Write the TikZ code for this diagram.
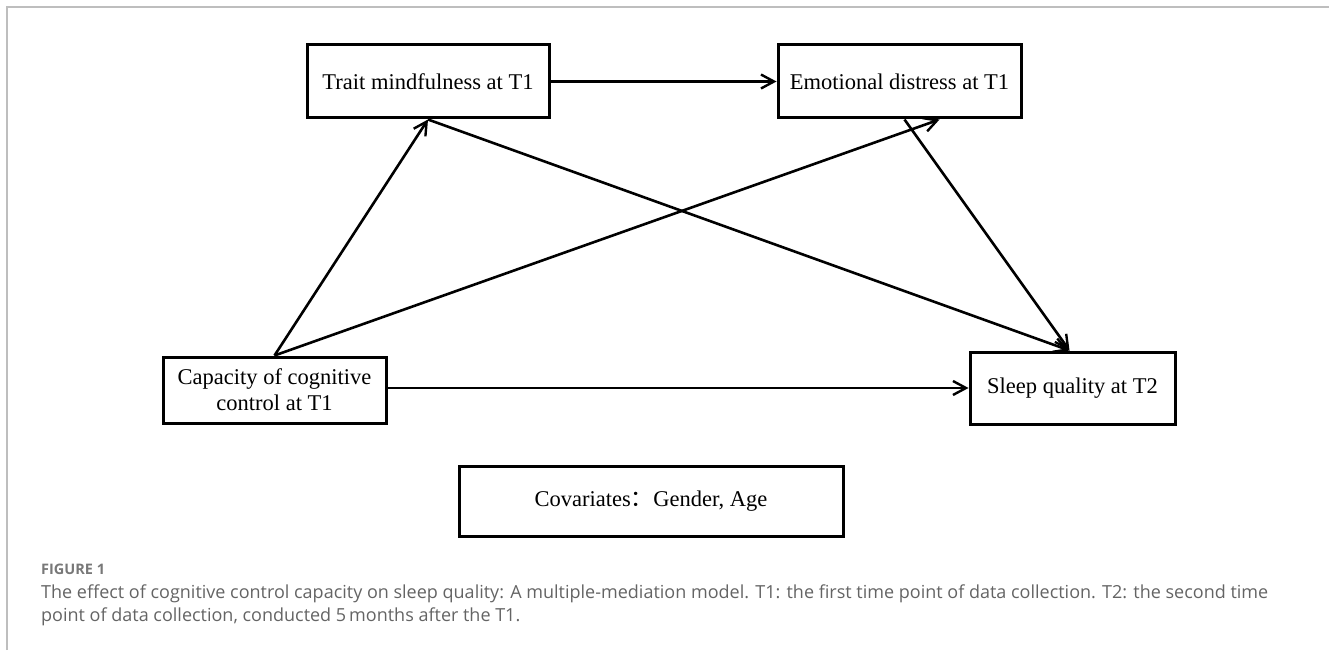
\documentclass[tikz,border=0pt]{standalone}
\usepackage{fontspec}
\setmainfont{Liberation Serif}
\newfontfamily\capfont{Open Sans}
\newfontfamily\cjk{Noto Sans CJK SC}
\usetikzlibrary{arrows.meta}
\definecolor{capgray}{RGB}{100,100,100}
\definecolor{labgray}{RGB}{120,120,120}
\definecolor{framegray}{RGB}{190,190,190}
\tikzset{
  varbox/.style={draw=black, line width=3pt, rectangle, align=center, inner sep=0pt, font=\fontsize{22.5}{26}\selectfont},
  path arrow/.style={line width=2.6pt, -{Straight Barb[length=13pt,width=14pt,line width=2.4pt]}},
  captext/.style={anchor=base west, inner sep=0pt, text=capgray, font=\capfont\fontsize{18}{23}\selectfont},
}
\begin{document}
\begin{tikzpicture}[x=1pt,y=-1pt]
\useasboundingbox (0,0) rectangle (1329,650);
\draw[framegray, line width=1.5pt] (7,650) -- (7,7) -- (1329,7);
\node[varbox, minimum width=242pt, minimum height=73pt] (trait) at (428,81.5) {Trait mindfulness at T1};
\node[varbox, minimum width=243pt, minimum height=73pt] (emo) at (899.5,81.5) {Emotional distress at T1};
\node[varbox, minimum width=223pt, minimum height=66pt] (cap) at (274.5,390) {Capacity of cognitive\\control at T1};
\node[varbox, minimum width=205pt, minimum height=72pt] (sleep) at (1072.5,388) {Sleep quality at T2};
\node[varbox, minimum width=384pt, minimum height=70pt] (cov) at (651,501) {Covariates{\cjk ：}Gender, Age};
\draw[path arrow] (trait.east) -- (emo.west);
\draw[path arrow] (cap.east |- sleep.west) -- (sleep.west);
\draw[path arrow] (cap.north) -- (trait.south);
\draw[path arrow] (cap.north) -- ([xshift=40pt]emo.south);
\draw[path arrow] (trait.south) -- ([xshift=-3pt]sleep.north);
\draw[path arrow] ([xshift=5pt]emo.south) -- ([xshift=-3pt]sleep.north);
\node[anchor=base west, inner sep=0pt, text=labgray, font=\capfont\bfseries\fontsize{14.5}{16}\selectfont] (figlab) at (41,574) {FIGURE 1};
\node[captext] (capline1) at (41,598) {The effect of cognitive control capacity on sleep quality: A multiple-mediation model. T1: the first time point of data collection. T2: the second time};
\node[captext] (capline2) at (41,621) {point of data collection, conducted 5\,months after the T1.};
\end{tikzpicture}
\end{document}
